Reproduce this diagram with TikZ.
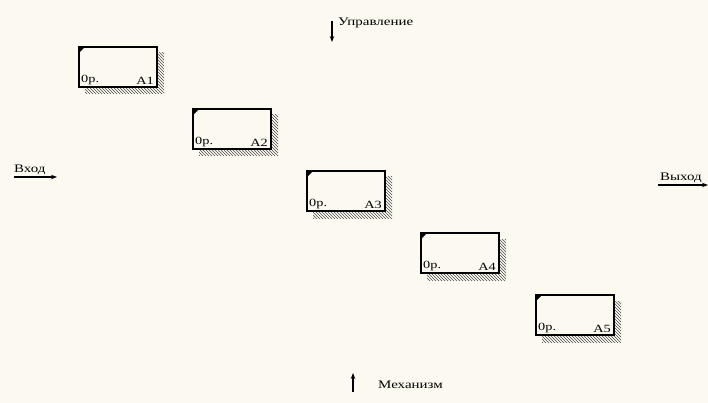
\documentclass[tikz,border=0pt]{standalone}
\usepackage{fontspec}
\setmainfont{Liberation Serif}
\newfontfamily\widefont[FakeStretch=1.3]{Liberation Serif}
\usetikzlibrary{patterns,arrows.meta}
\definecolor{bg}{RGB}{252,250,240}
\newcommand{\idefbox}[4]{%
  \fill[pattern=north west lines, pattern color=black!70] (#2+6,#3+6) rectangle (#2+85,#3+47);
  \node[fn, anchor=north west] (#1) at (#2,#3) {};
  \fill (#2,#3) -- (#2+6,#3) -- (#2,#3+6) -- cycle;
  \node[boxlbl, anchor=south west] at ([shift={(2,-2)}]#1.south west) {0p.};
  \node[boxlbl, anchor=south east] at ([shift={(-3,-2)}]#1.south east) {#4};
}
\begin{document}
\begin{tikzpicture}[x=1pt,y=-1pt,
  fn/.style={draw=black, line width=1.5pt, fill=bg, minimum width=78pt, minimum height=40pt, inner sep=0pt, outer sep=0pt},
  lbl/.style={font=\widefont\fontsize{11.5}{13}\selectfont, inner sep=0pt},
  boxlbl/.style={font=\widefont\fontsize{11}{12}\selectfont, inner sep=0pt},
  arr/.style={-{Stealth[length=6pt,width=4.5pt]}, line width=1.2pt}]
\fill[bg] (0,0) rectangle (708,403);
\useasboundingbox (0,0) rectangle (708,403);
\idefbox{a1}{79}{47}{A1}
\idefbox{a2}{193}{109}{A2}
\idefbox{a3}{307}{171}{A3}
\idefbox{a4}{421}{233}{A4}
\idefbox{a5}{536}{295}{A5}
% control
\coordinate (c0) at (332,21);
\coordinate (c1) at (332,42);
\draw[arr] (c0) -- (c1);
\node[lbl, anchor=west] (ctl) at (338,23) {Управление};
% input
\node[lbl, anchor=base west] (inp) at (14,173) {Вход};
\coordinate (i0) at (14,177);
\coordinate (i1) at (57,177);
\draw[arr] (i0) -- (i1);
% output
\node[lbl, anchor=base west] (outp) at (660,181) {Выход};
\coordinate (o0) at (658,185);
\coordinate (o1) at (708,185);
\draw[arr] (o0) -- (o1);
% mechanism
\coordinate (m0) at (353,392);
\coordinate (m1) at (353,373);
\draw[arr] (m0) -- (m1);
\node[lbl, anchor=west] (mech) at (378,385) {Механизм};
\end{tikzpicture}
\end{document}
